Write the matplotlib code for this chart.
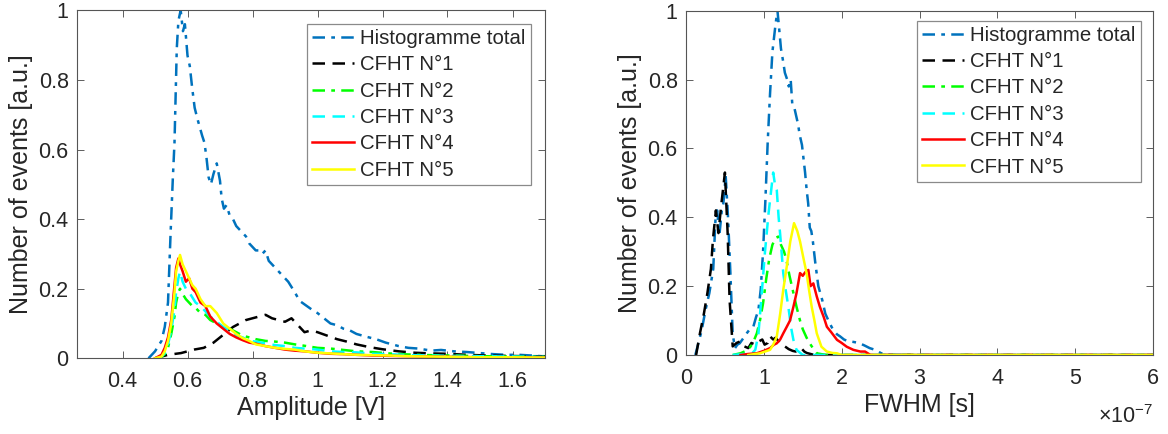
import matplotlib
matplotlib.use('Agg')
import matplotlib.pyplot as plt

plt.rcParams['font.family'] = ['Liberation Sans', 'DejaVu Sans']
plt.rcParams['mathtext.fontset'] = 'custom'
plt.rcParams['mathtext.rm'] = 'Liberation Sans'

# ---- Amplitude histograms (left) ----
amp_total_x = [0.48, 0.50, 0.52, 0.53, 0.54, 0.548, 0.555, 0.56, 0.567, 0.572, 0.579, 0.586, 0.592,
               0.60, 0.607, 0.614, 0.622, 0.63, 0.636, 0.645, 0.652, 0.658, 0.665, 0.672, 0.68, 0.69,
               0.70, 0.705, 0.712, 0.72, 0.73, 0.74, 0.75, 0.76, 0.77, 0.78, 0.79, 0.80, 0.81, 0.82,
               0.83, 0.84, 0.85, 0.86, 0.87, 0.88, 0.89, 0.90, 0.91, 0.92, 0.93, 0.945, 0.96, 0.975,
               0.99, 1.0, 1.02, 1.04, 1.06, 1.08, 1.10, 1.12, 1.15, 1.18, 1.21, 1.25, 1.28, 1.31,
               1.35, 1.38, 1.42, 1.46, 1.50, 1.54, 1.58, 1.62, 1.66, 1.70]
amp_total = [0.0, 0.02, 0.05, 0.09, 0.16, 0.36, 0.52, 0.62, 0.89, 0.97, 1.0, 0.94, 0.96,
             0.87, 0.84, 0.78, 0.72, 0.69, 0.67, 0.64, 0.62, 0.58, 0.52, 0.50, 0.53, 0.56,
             0.51, 0.46, 0.43, 0.44, 0.41, 0.40, 0.38, 0.37, 0.36, 0.35, 0.33, 0.32, 0.31, 0.31,
             0.30, 0.31, 0.28, 0.27, 0.26, 0.25, 0.24, 0.23, 0.22, 0.205, 0.19, 0.165, 0.155, 0.145,
             0.135, 0.13, 0.115, 0.10, 0.095, 0.085, 0.08, 0.07, 0.062, 0.055, 0.045, 0.035, 0.03, 0.028,
             0.022, 0.024, 0.02, 0.018, 0.015, 0.012, 0.01, 0.01, 0.008, 0.005]

amp_n1_x = [0.50, 0.54, 0.58, 0.62, 0.65, 0.68, 0.70, 0.72, 0.74, 0.76, 0.78, 0.80, 0.82, 0.84,
            0.86, 0.88, 0.90, 0.92, 0.94, 0.96, 0.98, 1.0, 1.03, 1.06, 1.09, 1.12, 1.16, 1.2,
            1.25, 1.3, 1.35, 1.4, 1.46, 1.52, 1.58, 1.64, 1.7]
amp_n1 = [0.0, 0.01, 0.015, 0.025, 0.03, 0.045, 0.06, 0.075, 0.09, 0.1, 0.11, 0.115, 0.12, 0.125,
          0.115, 0.11, 0.105, 0.115, 0.095, 0.075, 0.08, 0.075, 0.065, 0.055, 0.048, 0.04, 0.032, 0.026,
          0.02, 0.016, 0.014, 0.013, 0.01, 0.008, 0.007, 0.006, 0.006]

amp_comp_x = [0.50, 0.52, 0.53, 0.54, 0.55, 0.56, 0.565, 0.572, 0.577, 0.585, 0.595, 0.605, 0.615,
              0.625, 0.64, 0.655, 0.67, 0.69, 0.71, 0.73, 0.75, 0.77, 0.79, 0.81, 0.84, 0.87, 0.90,
              0.93, 0.96, 1.0, 1.04, 1.08, 1.12, 1.17, 1.22, 1.28, 1.35, 1.42, 1.5, 1.6, 1.7]
amp_n2 = [0.0, 0.004, 0.012, 0.03, 0.07, 0.12, 0.16, 0.19, 0.2, 0.185, 0.17, 0.16, 0.15,
          0.145, 0.13, 0.125, 0.11, 0.10, 0.09, 0.085, 0.075, 0.065, 0.06, 0.055, 0.05, 0.048, 0.045,
          0.04, 0.036, 0.03, 0.028, 0.024, 0.02, 0.018, 0.014, 0.011, 0.009, 0.008, 0.006, 0.005, 0.004]
amp_n3 = [0.0, 0.005, 0.015, 0.04, 0.08, 0.14, 0.19, 0.23, 0.249, 0.22, 0.20, 0.19, 0.175,
          0.16, 0.15, 0.135, 0.12, 0.105, 0.09, 0.08, 0.065, 0.06, 0.05, 0.048, 0.043, 0.038, 0.035,
          0.03, 0.028, 0.025, 0.02, 0.018, 0.017, 0.013, 0.012, 0.009, 0.008, 0.007, 0.006, 0.005, 0.004]
amp_n4 = [0.0, 0.01, 0.03, 0.06, 0.11, 0.21, 0.26, 0.287, 0.27, 0.25, 0.22, 0.23, 0.20,
          0.19, 0.16, 0.15, 0.12, 0.10, 0.085, 0.07, 0.06, 0.052, 0.045, 0.042, 0.035, 0.03, 0.025,
          0.022, 0.02, 0.016, 0.013, 0.012, 0.01, 0.008, 0.007, 0.006, 0.005, 0.004, 0.003, 0.003, 0.002]
amp_n5 = [0.0, 0.005, 0.02, 0.05, 0.10, 0.19, 0.25, 0.28, 0.297, 0.27, 0.25, 0.23, 0.21,
          0.20, 0.17, 0.15, 0.15, 0.13, 0.10, 0.085, 0.07, 0.058, 0.05, 0.04, 0.035, 0.03, 0.027,
          0.025, 0.02, 0.016, 0.014, 0.012, 0.01, 0.009, 0.008, 0.006, 0.005, 0.004, 0.003, 0.003, 0.002]

# ---- FWHM histograms (right), x in units of 1e-7 s ----
fw_total_x = [0.12, 0.2, 0.25, 0.3, 0.35, 0.38, 0.40, 0.43, 0.46, 0.48, 0.51, 0.54, 0.57, 0.60,
              0.63, 0.66, 0.69, 0.74, 0.78, 0.82, 0.865, 0.9, 0.93, 0.96, 0.99, 1.02, 1.05, 1.08,
              1.11, 1.15, 1.175, 1.2, 1.22, 1.25, 1.27, 1.3, 1.32, 1.345, 1.365, 1.39, 1.41, 1.44,
              1.46, 1.49, 1.51, 1.53, 1.55, 1.57, 1.59, 1.61, 1.63, 1.66, 1.70, 1.75, 1.79, 1.84,
              1.89, 1.94, 1.98, 2.03, 2.08, 2.15, 2.22, 2.29, 2.36, 2.43, 2.5, 2.55, 3.0, 4.0, 5.0, 6.0]
fw_total = [0.0, 0.07, 0.13, 0.18, 0.25, 0.40, 0.42, 0.35, 0.42, 0.44, 0.52, 0.40, 0.24, 0.06,
            0.02, 0.03, 0.034, 0.05, 0.063, 0.075, 0.082, 0.11, 0.13, 0.19, 0.30, 0.45, 0.62, 0.76,
            0.88, 0.96, 1.0, 0.94, 0.89, 0.85, 0.82, 0.80, 0.78, 0.80, 0.73, 0.72, 0.70, 0.67,
            0.64, 0.61, 0.57, 0.53, 0.48, 0.44, 0.37, 0.36, 0.33, 0.27, 0.2, 0.16, 0.12, 0.095,
            0.073, 0.06, 0.054, 0.045, 0.04, 0.038, 0.035, 0.028, 0.02, 0.015, 0.006, 0.001, 0.0, 0.0, 0.0, 0.0]

fw_n1_x = [0.13, 0.18, 0.23, 0.275, 0.32, 0.346, 0.384, 0.417, 0.45, 0.50, 0.535, 0.56, 0.60,
           0.65, 0.70, 0.75, 0.80, 0.84, 0.89, 0.94, 0.98, 1.01, 1.05, 1.08, 1.12, 1.15, 1.19,
           1.22, 1.27, 1.32, 1.37, 1.41, 1.45, 1.48, 1.52, 1.55, 1.6, 1.65, 2.0, 3.0, 4.0, 5.0, 6.0]
fw_n1 = [0.0, 0.064, 0.12, 0.18, 0.25, 0.335, 0.42, 0.354, 0.43, 0.53, 0.354, 0.16, 0.025,
         0.035, 0.04, 0.025, 0.02, 0.035, 0.03, 0.04, 0.045, 0.03, 0.035, 0.054, 0.045, 0.05, 0.04,
         0.03, 0.025, 0.017, 0.012, 0.01, 0.015, 0.02, 0.01, 0.006, 0.003, 0.0, 0.0, 0.0, 0.0, 0.0, 0.0]

fw_n2_x = [0.6, 0.7, 0.8, 0.86, 0.91, 0.95, 0.99, 1.03, 1.07, 1.11, 1.15, 1.187, 1.22, 1.26,
           1.29, 1.33, 1.38, 1.42, 1.465, 1.5, 1.55, 1.59, 1.63, 1.68, 1.8, 6.0]
fw_n2 = [0.0, 0.005, 0.015, 0.035, 0.063, 0.10, 0.15, 0.22, 0.28, 0.32, 0.34, 0.344, 0.32, 0.30,
         0.276, 0.23, 0.18, 0.14, 0.10, 0.075, 0.05, 0.034, 0.02, 0.005, 0.0, 0.0]

fw_n3_x = [0.6, 0.85, 0.89, 0.93, 0.97, 1.015, 1.06, 1.09, 1.12, 1.14, 1.166, 1.19, 1.21, 1.25,
           1.28, 1.315, 1.35, 1.38, 1.42, 1.5, 6.0]
fw_n3 = [0.0, 0.005, 0.015, 0.06, 0.17, 0.30, 0.41, 0.47, 0.53, 0.50, 0.48, 0.40, 0.35, 0.237,
         0.19, 0.14, 0.08, 0.044, 0.015, 0.0, 0.0]

fw_n4_x = [0.7, 0.8, 0.91, 1.0, 1.08, 1.13, 1.166, 1.21, 1.25, 1.29, 1.336, 1.38, 1.42, 1.465,
           1.5, 1.53, 1.572, 1.6, 1.636, 1.68, 1.72, 1.77, 1.81, 1.87, 1.94, 2.0, 2.065, 2.15,
           2.24, 2.3, 2.37, 6.0]
fw_n4 = [0.0, 0.003, 0.005, 0.012, 0.02, 0.03, 0.034, 0.045, 0.063, 0.08, 0.10, 0.14, 0.18, 0.238,
         0.23, 0.24, 0.247, 0.2, 0.208, 0.17, 0.14, 0.11, 0.082, 0.065, 0.044, 0.035, 0.024, 0.015,
         0.01, 0.01, 0.0, 0.0]

fw_n5_x = [0.8, 0.95, 1.08, 1.12, 1.166, 1.21, 1.25, 1.294, 1.34, 1.388, 1.43, 1.465, 1.51, 1.55,
           1.58, 1.615, 1.65, 1.68, 1.74, 1.81, 1.88, 1.94, 2.0, 6.0]
fw_n5 = [0.0, 0.005, 0.015, 0.03, 0.053, 0.12, 0.19, 0.256, 0.33, 0.383, 0.36, 0.33, 0.28, 0.237,
         0.19, 0.14, 0.10, 0.063, 0.024, 0.01, 0.006, 0.005, 0.0, 0.0]

labels = ['Histogramme total', 'CFHT N°1', 'CFHT N°2', 'CFHT N°3', 'CFHT N°4', 'CFHT N°5']
colors = ['#0072BD', 'black', '#00FF00', '#00FFFF', '#FF0000', '#FFFF00']
styles = [(0, (5, 2.5, 1.5, 2.5)), (0, (5, 3)), (0, (5, 2.5, 1.5, 2.5)), (0, (5, 3)), '-', '-']

text_c = '#262626'
fig = plt.figure(figsize=(11.68, 4.34), dpi=100)
ax1 = fig.add_axes([77 / 1168, 1 - 358.3 / 434, 468 / 1168, 348 / 434])
ax2 = fig.add_axes([686 / 1168, 1 - 355 / 434, 467 / 1168, 344.3 / 434])

amp_series = [(amp_total_x, amp_total), (amp_n1_x, amp_n1), (amp_comp_x, amp_n2),
              (amp_comp_x, amp_n3), (amp_comp_x, amp_n4), (amp_comp_x, amp_n5)]
fw_series = [(fw_total_x, fw_total), (fw_n1_x, fw_n1), (fw_n2_x, fw_n2),
             (fw_n3_x, fw_n3), (fw_n4_x, fw_n4), (fw_n5_x, fw_n5)]

for (x, y), lab, c, ls in zip(amp_series, labels, colors, styles):
    ax1.plot(x, y, color=c, linestyle=ls, linewidth=1.8, label=lab)
for (x, y), lab, c, ls in zip(fw_series, labels, colors, styles):
    ax2.plot(x, y, color=c, linestyle=ls, linewidth=1.8, label=lab)

ax1.set_xlim(0.26, 1.7)
ax1.set_xticks([0.4, 0.6, 0.8, 1.0, 1.2, 1.4, 1.6])
ax1.set_xticklabels(['0.4', '0.6', '0.8', '1', '1.2', '1.4', '1.6'])
ax1.set_xlabel('Amplitude [V]', fontsize=18, color=text_c, labelpad=3)

ax2.set_xlim(0, 6)
ax2.set_xticks(range(7))
ax2.set_xlabel('FWHM [s]', fontsize=18, color=text_c, labelpad=3)
ax2.text(1.0, -0.197, r'×10$^{\mathregular{-7}}$', transform=ax2.transAxes,
         ha='right', va='baseline', fontsize=15.5, color=text_c)

for ax, anchor in ((ax1, (0.970, 0.961)), (ax2, (0.974, 0.971))):
    ax.set_ylim(0, 1)
    ax.set_yticks([0, 0.2, 0.4, 0.6, 0.8, 1])
    ax.set_yticklabels(['0', '0.2', '0.4', '0.6', '0.8', '1'])
    ax.set_ylabel('Number of events [a.u.]', fontsize=18, color=text_c, labelpad=4)
    ax.tick_params(direction='in', length=5, width=0.6, top=True, right=True,
                   labelsize=15.5, labelcolor=text_c, color='#444444')
    ax.tick_params(axis='x', pad=9)
    ax.tick_params(axis='y', pad=6)
    for s in ax.spines.values():
        s.set_color('#555555')
        s.set_linewidth(0.8)
    leg = ax.legend(loc='upper right', bbox_to_anchor=anchor, borderaxespad=0,
                    fontsize=14.7, fancybox=False, framealpha=1, handlelength=2.05,
                    handletextpad=0.33, labelspacing=0.36, borderpad=0.25)
    leg.get_frame().set_edgecolor('#8a8a8a')
    leg.get_frame().set_linewidth(0.9)
    for t in leg.get_texts():
        t.set_color(text_c)

fig.savefig('out.png', dpi=100)
